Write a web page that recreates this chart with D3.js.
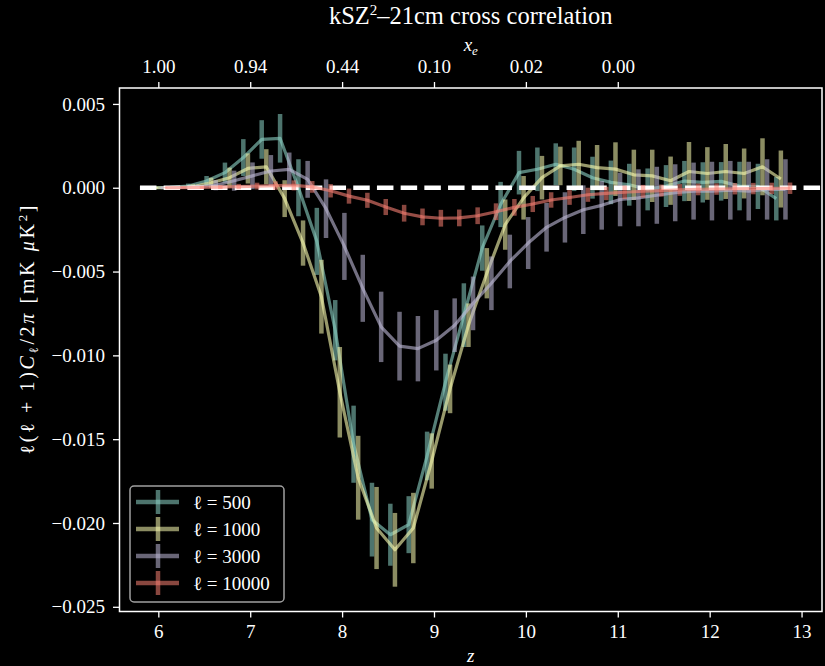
<!DOCTYPE html>
<html>
<head>
<meta charset="utf-8">
<script src="https://cdn.jsdelivr.net/npm/d3@7/dist/d3.min.js"></script>
<style>
body{margin:0;background:#000;}
svg text{font-family:"Liberation Serif","DejaVu Serif",serif;fill:#fff;}
</style>
</head>
<body>
<div id="chart"></div>
<script>
// redshift bins (each series is shifted a little sideways so the error bars don't overlap)
var zs = [6.0,6.2,6.4,6.6,6.8,7.0,7.2,7.4,7.6,7.8,8.0,8.2,8.4,8.6,8.8,9.0,9.2,9.4,9.6,9.8,
	10.0,10.2,10.4,10.6,10.8,11.0,11.2,11.4,11.6,11.8,12.0,12.2,12.4,12.6,12.8];

var zTicks = [6,7,8,9,10,11,12,13];
var xeTicks = [6,7,8,9,10,11];
var xeLabels = ["1.00","0.94","0.44","0.10","0.02","0.00"];
var yTicks = [0.005,0,-0.005,-0.010,-0.015,-0.020,-0.025];

var ells = [500,1000,3000,10000];

var cl500 = [0.00000,0.00002,0.00010,0.00040,0.00090,0.00180,0.00288,0.00295,0.00000,-0.00320,
	-0.00850,-0.01530,-0.01980,-0.02070,-0.02010,-0.01600,-0.01160,-0.00760,-0.00360,-0.00100,
	0.00090,0.00110,0.00140,0.00110,0.00060,0.00032,0.00018,-0.00010,0.00010,0.00040,
	0.00032,0.00038,0.00010,0.00008,-0.00065];
var err500 = [0.00005,0.00008,0.00015,0.00030,0.00060,0.00110,0.00115,0.00145,0.00170,0.00200,
	0.00180,0.00230,0.00220,0.00185,0.00170,0.00145,0.00170,0.00190,0.00135,0.00135,
	0.00130,0.00130,0.00125,0.00130,0.00125,0.00130,0.00125,0.00125,0.00125,0.00120,
	0.00120,0.00115,0.00145,0.00135,0.00130];

var cl1000 = [0.00000,0.00001,0.00006,0.00030,0.00060,0.00115,0.00125,-0.00065,-0.00330,-0.00650,
	-0.01220,-0.01730,-0.02030,-0.02160,-0.02030,-0.01630,-0.01200,-0.00820,-0.00510,-0.00220,
	-0.00060,0.00060,0.00130,0.00140,0.00120,0.00111,0.00077,0.00071,0.00042,0.00097,
	0.00085,0.00097,0.00085,0.00125,0.00052];
var err1000 = [0.00004,0.00008,0.00015,0.00030,0.00060,0.00090,0.00105,0.00110,0.00135,0.00220,
	0.00270,0.00250,0.00245,0.00220,0.00210,0.00165,0.00145,0.00130,0.00150,0.00150,
	0.00130,0.00130,0.00115,0.00140,0.00135,0.00160,0.00150,0.00156,0.00144,0.00176,
	0.00157,0.00164,0.00149,0.00170,0.00170];

var cl3000 = [0.00000,0.00002,0.00005,0.00015,0.00042,0.00071,0.00100,0.00110,0.00050,-0.00125,
	-0.00350,-0.00600,-0.00830,-0.00945,-0.00960,-0.00910,-0.00820,-0.00690,-0.00570,-0.00440,
	-0.00330,-0.00236,-0.00177,-0.00131,-0.00105,-0.00070,-0.00060,-0.00045,-0.00030,-0.00020,
	-0.00020,-0.00015,-0.00020,-0.00010,-0.00010];
var err3000 = [0.00003,0.00006,0.00012,0.00030,0.00060,0.00080,0.00095,0.00100,0.00110,0.00175,
	0.00200,0.00200,0.00210,0.00205,0.00195,0.00180,0.00160,0.00160,0.00160,0.00160,
	0.00155,0.00145,0.00150,0.00145,0.00145,0.00160,0.00170,0.00170,0.00170,0.00170,
	0.00175,0.00175,0.00175,0.00180,0.00180];

var cl10000 = [0.00000,0.00001,0.00002,0.00004,0.00007,0.00010,0.00013,0.00014,0.00005,-0.00018,
	-0.00050,-0.00075,-0.00115,-0.00152,-0.00174,-0.00182,-0.00180,-0.00167,-0.00143,-0.00117,
	-0.00097,-0.00073,-0.00058,-0.00042,-0.00034,-0.00027,-0.00021,-0.00017,-0.00013,-0.00010,
	-0.00008,-0.00006,-0.00005,-0.00004,-0.00003];
var err10000 = [0.00002,0.00004,0.00008,0.00012,0.00016,0.00020,0.00025,0.00030,0.00035,0.00040,
	0.00045,0.00045,0.00048,0.00050,0.00050,0.00050,0.00050,0.00050,0.00050,0.00050,
	0.00048,0.00046,0.00044,0.00042,0.00040,0.00040,0.00038,0.00036,0.00035,0.00035,
	0.00034,0.00034,0.00034,0.00034,0.00034];

var zeroLineZ = [5.8,13.6];

var series = [
	{ell:ells[0], cl:cl500, err:err500, color:"#8dd3c7", dz:-0.075},
	{ell:ells[1], cl:cl1000, err:err1000, color:"#feffb3", dz:-0.025},
	{ell:ells[2], cl:cl3000, err:err3000, color:"#bfbbd9", dz:0.025},
	{ell:ells[3], cl:cl10000, err:err10000, color:"#fa8174", dz:0.075}
];

var width=825, height=666;
var margin={top:88, right:3, bottom:54.5, left:119.5};
var w=width-margin.left-margin.right;
var h=height-margin.top-margin.bottom;

var svg = d3.select("#chart").append("svg")
	.attr("width",width)
	.attr("height",height)
	.style("background","#000");

var g = svg.append("g")
	.attr("transform","translate("+margin.left+","+margin.top+")");

var x = d3.scaleLinear()
	.domain([5.5775, 13.2225])
	.range([0, w]);

var y = d3.scaleLinear()
	.domain([-0.02528, 0.00595])
	.range([h, 0]);

g.append("clipPath").attr("id","clip")
	.append("rect").attr("width",w).attr("height",h);

var plot = g.append("g").attr("clip-path","url(#clip)");

// draw one errorbar series
function drawSeries(s) {
	var pts = s.cl.map(function(v,i){ return {z:zs[i]+s.dz, v:v, e:s.err[i]}; });
	var sg = plot.append("g").attr("class","series");

	sg.selectAll("line")
		.data(pts)
	  .enter().append("line")
		.attr("x1", function(d){ return x(d.z); })
		.attr("x2", function(d){ return x(d.z); })
		.attr("y1", function(d){ return y(d.v+d.e); })
		.attr("y2", function(d){ return y(d.v-d.e); })
		.attr("stroke", s.color)
		.attr("stroke-width", 4.5)
		.attr("opacity", 0.55);

	sg.append("path")
		.datum(pts)
		.attr("fill","none")
		.attr("stroke", s.color)
		.attr("stroke-width", 3.2)
		.attr("stroke-linejoin","round")
		.attr("opacity", 0.6)
		.attr("d", d3.line()
			.x(function(d){ return x(d.z); })
			.y(function(d){ return y(d.v); }));
}

drawSeries(series[0]);
drawSeries(series[1]);
drawSeries(series[2]);

// dashed zero line
plot.append("line")
	.attr("x1", x(zeroLineZ[0]))
	.attr("x2", x(zeroLineZ[1]))
	.attr("y1", y(0))
	.attr("y2", y(0))
	.attr("stroke","#fff")
	.attr("stroke-width",4.5)
	.attr("stroke-dasharray","16.5,7.2");

drawSeries(series[3]);

// axes
var fmt = d3.format(".3f");

var xAxis = g.append("g")
	.attr("transform","translate(0,"+h+")")
	.call(d3.axisBottom(x).tickValues(zTicks).tickSize(6).tickPadding(7).tickFormat(d3.format("d")));

var topAxis = g.append("g")
	.call(d3.axisTop(x).tickValues(xeTicks).tickSize(6).tickPadding(9.5)
		.tickFormat(function(d,i){ return xeLabels[i]; }));

var yAxis = g.append("g")
	.call(d3.axisLeft(y).tickValues(yTicks).tickSize(6.5).tickPadding(8).tickFormat(fmt));

[xAxis, topAxis, yAxis].forEach(function(a){
	a.select(".domain").remove();
	a.selectAll(".tick line").attr("stroke","#fff").attr("stroke-width",1.3);
	a.selectAll(".tick text").attr("fill","#fff").style("font-size","19px")
		.style("font-family","'Liberation Serif',serif");
});

// frame
g.append("rect")
	.attr("width",w).attr("height",h)
	.attr("fill","none")
	.attr("stroke","#fff")
	.attr("stroke-width",1.5);

// title + labels
svg.append("text")
	.attr("x", margin.left+w/2).attr("y",24)
	.attr("text-anchor","middle")
	.style("font-size","24.5px")
	.call(function(t){
		t.append("tspan").text("kSZ");
		t.append("tspan").text("2").attr("dy",-9).style("font-size","15px");
		t.append("tspan").text("–21cm cross correlation").attr("dy",9);
	});

svg.append("text")
	.attr("x", margin.left+w/2).attr("y",51)
	.attr("text-anchor","middle")
	.style("font-size","19px")
	.call(function(t){
		t.append("tspan").text("x").style("font-style","italic");
		t.append("tspan").text("e").style("font-style","italic").style("font-size","13px").attr("dy",4);
	});

svg.append("text")
	.attr("x", margin.left+w/2).attr("y",662)
	.attr("text-anchor","middle")
	.style("font-size","19px")
	.style("font-style","italic")
	.text("z");

svg.append("text")
	.attr("transform","translate(34,330) rotate(-90)")
	.attr("text-anchor","middle")
	.attr("textLength",249)
	.attr("lengthAdjust","spacing")
	.style("font-size","20px")
	.call(function(t){
		t.append("tspan").text("ℓ(ℓ + 1)");
		t.append("tspan").text("C").style("font-style","italic");
		t.append("tspan").text("ℓ").style("font-size","13px").attr("dy",4);
		t.append("tspan").text("/2").attr("dy",-4);
		t.append("tspan").text("π").style("font-style","italic");
		t.append("tspan").text(" [mK ");
		t.append("tspan").text("μ").style("font-style","italic");
		t.append("tspan").text("K");
		t.append("tspan").text("2").style("font-size","13px").attr("dy",-7);
		t.append("tspan").text("]").attr("dy",7);
	});

// legend
var leg = svg.append("g").attr("transform","translate(130,486)");
leg.append("rect")
	.attr("width",154).attr("height",116)
	.attr("rx",4).attr("ry",4)
	.attr("fill","#000")
	.attr("stroke","#a0a0a0")
	.attr("stroke-width",1.5);

var rows = leg.selectAll(".row")
	.data(series)
  .enter().append("g")
	.attr("class","row")
	.attr("transform",function(d,i){ return "translate(0,"+(16+i*27)+")"; });

rows.append("line")
	.attr("x1",6).attr("x2",49).attr("y1",0).attr("y2",0)
	.attr("stroke",function(d){ return d.color; })
	.attr("stroke-width",4.5)
	.attr("opacity",0.55);

rows.append("line")
	.attr("x1",28).attr("x2",28).attr("y1",-12).attr("y2",12)
	.attr("stroke",function(d){ return d.color; })
	.attr("stroke-width",4.5)
	.attr("opacity",0.55);

rows.append("text")
	.attr("x",63).attr("y",6.5)
	.style("font-size","19px")
	.text(function(d){ return "ℓ = "+d.ell; });
</script>
</body>
</html>
